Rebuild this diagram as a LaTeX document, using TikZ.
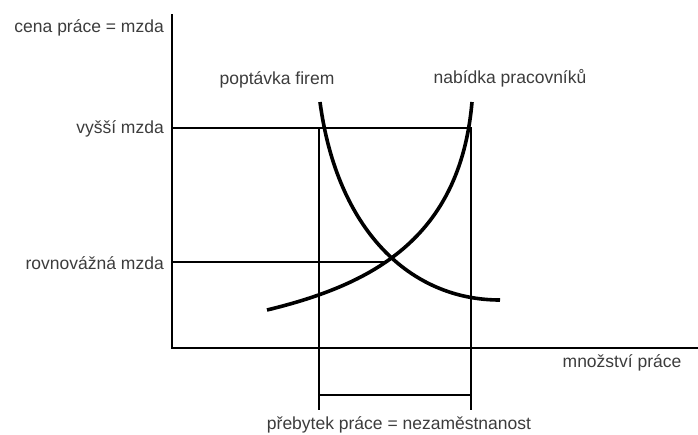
\documentclass[tikz,border=0pt]{standalone}
\usepackage{fontspec}
\setmainfont{Liberation Sans}
\usepackage{tikz}
\usepackage{xcolor}
\usetikzlibrary{positioning,calc}
\definecolor{Label}{HTML}{3C3C3C}

\begin{document}
\begin{tikzpicture}[
  x=1pt,y=-1pt,
  lbl/.style={inner sep=0pt,text=Label,font=\fontsize{17.5}{20}\selectfont},
  axis/.style={line width=2.6pt,draw=black},
  guide/.style={line width=1.3pt,draw=black},
  curve/.style={line width=3.6pt,draw=black}
]
\useasboundingbox (0,0) rectangle (698,434);
% axes
\coordinate (ytop) at (172,14);
\coordinate (orig) at (172,349);
\coordinate (xend) at (698,348);
\draw[axis] (ytop) -- (orig);
\draw[axis] (172,348) -- (xend);
% wage levels
\coordinate (hi) at (172,128);
\coordinate (hiR) at (472,128);
\coordinate (eq) at (172,262);
\coordinate (eqR) at (386,262);
\draw[guide] (hi) -- (hiR);
\draw[guide] (eq) -- (eqR);
% surplus of labour
\coordinate (dTop) at (319,128);
\coordinate (dBot) at (319,410);
\coordinate (sTop) at (471,128);
\coordinate (sBot) at (471,410);
\draw[guide] (dTop) -- (dBot);
\draw[guide] (sTop) -- (sBot);
\draw[guide] (319,395) -- (471,395);
% curves
\coordinate (dStart) at (320,102);
\coordinate (dEnd) at (500,300);
\coordinate (sStart) at (267,310);
\coordinate (sEnd) at (472,102);
\draw[curve] (dStart) .. controls (337,230) and (410,300) .. (dEnd);
\draw[curve] (sStart) .. controls (370,285) and (460,240) .. (sEnd);
% labels
\node[lbl,anchor=east] (price) at (164,28) {cena práce = mzda};
\node[lbl,anchor=east] (high) at (164,129) {vyšší mzda};
\node[lbl,anchor=east] (equil) at (164,263) {rovnovážná mzda};
\node[lbl] (demand) at (277,80) {poptávka firem};
\node[lbl] (supply) at (510,78) {nabídka pracovníků};
\node[lbl] (qty) at (622,363) {množství práce};
\node[lbl] (surplus) at (399,425) {přebytek práce = nezaměstnanost};
\end{tikzpicture}
\end{document}
